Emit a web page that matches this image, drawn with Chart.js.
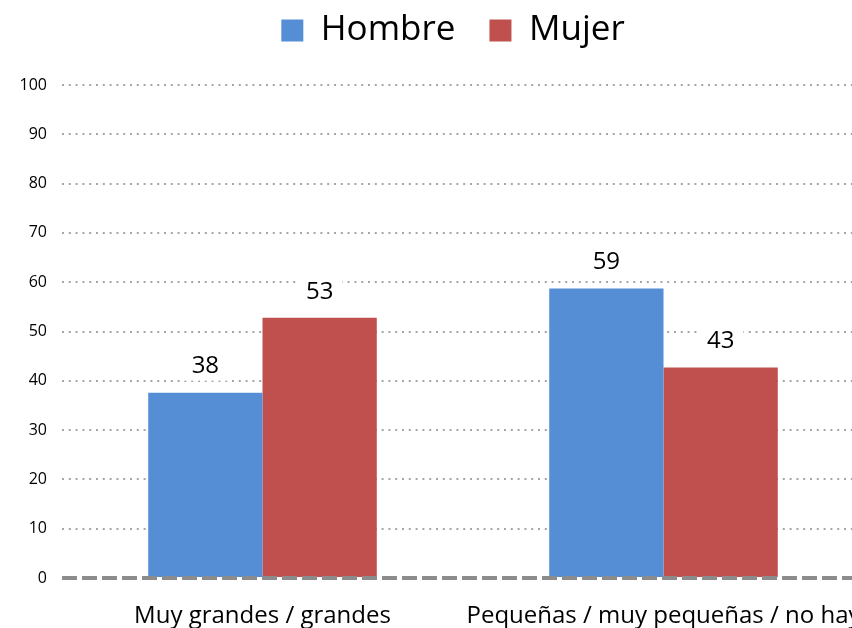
<!DOCTYPE html>
<html><head><meta charset="utf-8">
<script src="https://cdn.jsdelivr.net/npm/chart.js@4/dist/chart.umd.min.js"></script>
<style>
html,body{margin:0;padding:0;overflow:hidden;background:#fff}
#wrap{position:relative;width:864px;height:628px}
</style></head>
<body><div id="wrap"><canvas id="c"></canvas></div>
<script>
const categories = ['Muy grandes / grandes', 'Pequeñas / muy pequeñas / no hay'];
const seriesNames = ['Hombre', 'Mujer'];
const hombre = [37.6, 58.7];
const mujer = [52.8, 42.7];
const yMin = 0, yMax = 100, yStep = 10;

const FONT = "'Open Sans', sans-serif";

const widenYLabels = {
  id: 'widenYLabels',
  afterLayout(chart) { chart.scales.y.left = 0; }
};

const zeroLine = {
  id: 'zeroLine',
  afterDatasetsDraw(chart) {
    const {ctx, chartArea} = chart;
    const y = chart.scales.y.getPixelForValue(0);
    ctx.save();
    ctx.strokeStyle = '#8c8c8c';
    ctx.lineWidth = 4;
    ctx.setLineDash([15, 5]);
    ctx.beginPath();
    ctx.moveTo(chartArea.left, y);
    ctx.lineTo(chartArea.right, y);
    ctx.stroke();
    ctx.restore();
  }
};

const dataLabels = {
  id: 'dataLabels',
  afterDatasetsDraw(chart) {
    const {ctx} = chart;
    ctx.save();
    ctx.font = '24px ' + FONT;
    ctx.textAlign = 'center';
    ctx.textBaseline = 'middle';
    chart.data.datasets.forEach((ds, di) => {
      const meta = chart.getDatasetMeta(di);
      meta.data.forEach((el, i) => {
        const txt = String(Math.round(ds.data[i]));
        const w = ctx.measureText(txt).width + 18;
        const cy = el.y - 26;
        ctx.fillStyle = '#fff';
        ctx.fillRect(el.x - w / 2, cy - 14, w, 28);
        ctx.fillStyle = '#000';
        ctx.fillText(txt, el.x, cy);
      });
    });
    ctx.restore();
  }
};

new Chart(document.getElementById('c'), {
  type: 'bar',
  data: {
    labels: categories,
    datasets: [
      {label: seriesNames[0], data: hombre, backgroundColor: '#558ED5', borderWidth: 0},
      {label: seriesNames[1], data: mujer, backgroundColor: '#C0504D', borderWidth: 0}
    ]
  },
  options: {
    responsive: true,
    maintainAspectRatio: false,
    devicePixelRatio: 1,
    animation: false,
    layout: {autoPadding: false, padding: {left: 42, right: 0, top: -21, bottom: 0}},
    datasets: {bar: {categoryPercentage: 0.57, barPercentage: 1}},
    plugins: {
      tooltip: {enabled: false},
      legend: {
        position: 'top',
        labels: {
          boxWidth: 22, boxHeight: 22, padding: 34,
          color: '#000',
          font: {family: FONT, size: 35}
        }
      }
    },
    scales: {
      x: {
        grid: {display: false, drawTicks: false},
        border: {display: false},
        afterFit(scale) { scale.height = 50; scale.paddingLeft = 0; scale.paddingRight = 0; },
        ticks: {
          color: '#000', font: {family: FONT, size: 24},
          maxRotation: 0, minRotation: 0, autoSkip: false, padding: 24
        }
      },
      xTop: {
        type: 'category',
        position: 'top',
        grid: {display: false, drawTicks: false},
        border: {display: false},
        ticks: {display: false},
        afterFit(scale) { scale.height = 27; scale.paddingLeft = 0; scale.paddingRight = 0; }
      },
      y: {
        min: yMin, max: yMax,
        afterFit(scale) { scale.width = 20; },
        ticks: {stepSize: yStep, color: '#000', font: {family: FONT, size: 16}, padding: 15},
        grid: {
          drawTicks: false,
          lineWidth: 2,
          color: (c) => c.tick && c.tick.value === 0 ? 'rgba(0,0,0,0)' : '#a6a6a6'
        },
        border: {display: false, dash: [2, 4.8]}
      }
    }
  },
  plugins: [widenYLabels, zeroLine, dataLabels]
});
</script>
</body></html>
